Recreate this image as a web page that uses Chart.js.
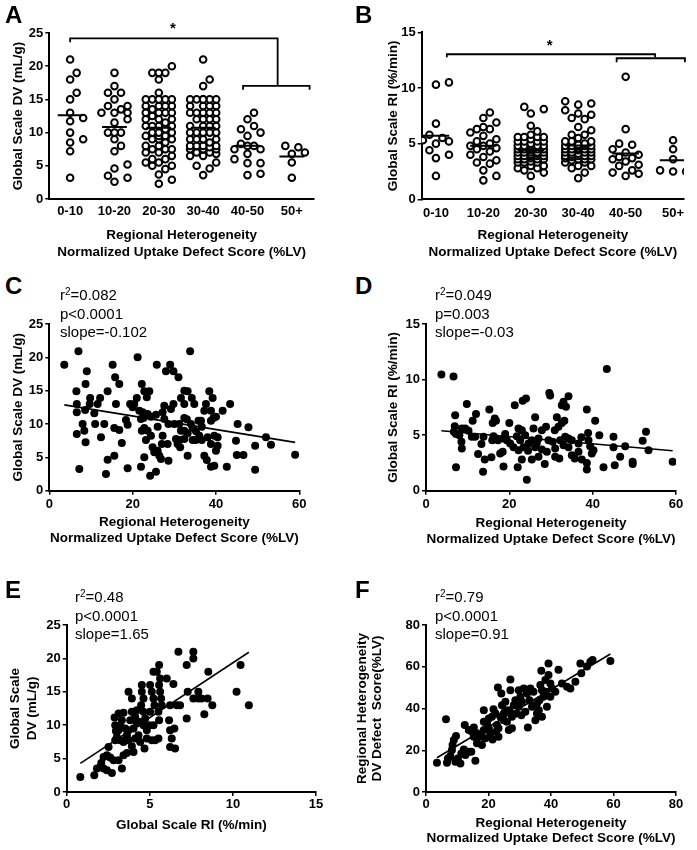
<!DOCTYPE html>
<html>
<head>
<meta charset="utf-8">
<script src="https://cdn.jsdelivr.net/npm/chart.js@4.4.0/dist/chart.umd.min.js"></script>
<style>
  body { margin: 0; background: #fff; width: 697px; height: 850px; position: relative; overflow: hidden;
         font-family: "Liberation Sans", Arial, sans-serif; color: #000; }
  canvas { position: absolute; }
  .lbl { position: absolute; font-weight: bold; font-size: 24px; line-height: 1; z-index: 2; }
  .stat { position: absolute; font-size: 15px; line-height: 18.5px; z-index: 2; white-space: nowrap; }
  .stat sup { font-size: 10px; vertical-align: top; position: relative; top: -3px; }
</style>
</head>
<body>

<script>
// categorias dos paineis A e B
const groupLabels = ['0-10', '10-20', '20-30', '30-40', '40-50', '50+'];

// painel A: Global Scale DV (mL/g) por grupo
const dvGroups = [
  [21, 19, 18, 16, 15, 13, 12.2, 11.7, 10, 9, 8.5, 7.2, 3.2],
  [19, 17, 16, 16, 15, 14, 14, 13.5, 13, 13, 13, 12, 11.5, 10, 10, 10, 9, 8, 7.2, 5.2, 4.6, 3.5, 3.2, 2.6],
  [20, 19, 19, 19, 18, 16, 15, 15, 15, 15, 15, 14, 14, 14, 14, 13.5, 13, 13, 13, 13, 12.5, 12, 12, 12, 11.5,
   11, 11, 11, 11, 10.5, 10, 10, 10, 9.5, 9.5, 9.5, 9, 9, 9, 8.5, 8, 8, 7.5, 7.5, 7.5, 7, 7, 6.5, 6, 6,
   5.5, 5.5, 5, 5, 4.5, 3.7, 2.9, 2.3],
  [21, 18, 17, 15, 15, 15, 15, 15, 15, 14, 14, 14, 14, 13, 13, 13, 13, 13, 12, 12, 12, 12, 11, 11, 11, 11,
   10, 10, 10, 10, 10, 9, 9, 9, 9, 8, 8, 8, 8, 7.5, 7.5, 7.5, 7, 6.5, 5.5, 5, 4.6, 3.6, 6.8, 7.8, 8.5, 6.5, 7],
  [13, 12, 11, 10.5, 10, 9.5, 8.3, 8, 8, 7.5, 7.5, 6.8, 6, 5.4, 5.4, 3.8, 3.6],
  [8, 7.8, 7, 6.8, 5.5, 3.2]
];

// painel B: Global Scale RI (%/min) por grupo
const riGroups = [
  [10.5, 10.3, 6.8, 5.8, 5.5, 5.3, 5.2, 5.0, 4.4, 4.0, 3.7, 2.1],
  [7.8, 7.3, 6.9, 6.5, 6.3, 6.3, 6.0, 5.7, 5.4, 5.2, 5.0, 4.8, 4.8, 4.6, 4.5, 4.3, 4.0, 3.8, 3.5, 3.3, 3.2, 2.6, 2.1, 1.7],
  [8.3, 8.1, 7.7, 6.6, 6.1, 5.6, 5.6, 5.6, 5.6, 5.2, 5.2, 5.2, 5.2, 4.8, 4.8, 4.8, 4.8, 4.8, 4.5, 4.5, 4.5, 4.5, 4.5,
   4.2, 4.2, 4.2, 4.2, 4.2, 3.9, 3.9, 3.9, 3.9, 3.9, 3.6, 3.6, 3.6, 3.6, 3.3, 3.3, 3.3, 3.0, 3.0, 2.8, 2.8, 2.4, 2.1, 0.9,
   5.0, 4.6, 4.0, 3.7, 4.4, 5.4, 3.4, 4.1, 4.7, 5.8, 2.6],
  [8.8, 8.6, 8.5, 8.0, 7.7, 7.6, 7.3, 7.2, 6.5, 6.2, 5.8, 5.8, 5.5, 5.2, 5.2, 5.2, 4.8, 4.8, 4.8, 4.8, 4.8, 4.5, 4.5, 4.5,
   4.5, 4.5, 4.2, 4.2, 4.2, 4.2, 3.9, 3.9, 3.9, 3.9, 3.6, 3.6, 3.6, 3.3, 3.3, 3.0, 3.0, 2.8, 2.4, 1.9,
   4.0, 3.7, 4.6, 5.0, 4.4, 3.5, 4.1, 4.9, 3.8],
  [11.0, 6.3, 5.0, 4.9, 4.5, 4.2, 4.0, 3.8, 3.6, 3.4, 3.1, 3.0, 2.6, 2.4, 2.3, 2.1, 3.7],
  [5.3, 4.5, 3.6, 2.6, 2.5, 2.5]
];

// painel C: [uptake defect score, DV]
const scatterC = [
  [3.6,18.9],[7.0,20.9],[9.0,17.9],[6.5,14.9],[8.7,16.0],[6.6,13.0],[6.6,11.75],[8.6,12.1],[9.8,13.9],[9.7,13.0],
  [11.6,13.0],[12.2,13.9],[10.8,11.6],[8.0,10.0],[8.4,9.0],[6.6,8.5],[8.7,7.25],[11.0,10.0],[12.4,8.0],[13.2,10.0],
  [14.0,14.9],[7.2,3.25],[15.2,18.9],[15.8,17.0],[16.8,16.0],[16.0,13.0],[15.6,9.4],[16.8,9.1],[17.4,7.15],[14.0,4.65],
  [15.6,5.25],[13.6,2.5],[18.4,10.6],[18.8,9.9],[18.8,3.35],[21.2,20.0],[22.2,16.0],[19.4,13.0],[20.0,12.5],[20.4,13.0],
  [21.0,13.9],[21.6,12.0],[22.4,11.75],[22.8,14.9],[24.0,14.9],[23.4,14.0],[22.6,10.9],[23.6,11.5],[22.0,10.75],[22.8,9.4],
  [22.2,9.0],[23.6,9.0],[24.4,8.25],[23.2,7.6],[25.8,18.9],[28.0,17.9],[29.0,18.9],[29.8,17.9],[31.0,17.0],[24.8,6.5],
  [25.2,5.75],[26.0,6.0],[26.4,5.25],[24.4,11.1],[25.6,11.4],[27.2,11.75],[26.0,9.6],[27.2,8.25],[27.0,7.0],[28.4,7.0],
  [26.8,4.75],[28.6,4.5],[22.8,5.0],[22.0,3.6],[24.2,2.25],[25.6,2.85],[27.6,10.75],[28.6,10.0],[30.0,10.0],[29.2,12.25],
  [29.8,13.0],[31.2,10.0],[31.6,9.0],[31.2,7.6],[30.8,7.0],[31.4,6.5],[32.4,15.0],[33.2,14.9],[31.6,13.9],[32.4,13.0],
  [34.2,13.9],[34.8,13.0],[33.8,20.9],[32.4,10.9],[33.0,10.7],[34.0,10.0],[32.4,9.0],[33.2,8.6],[34.4,9.4],[35.2,8.9],
  [32.4,7.75],[34.4,7.6],[33.2,5.25],[35.8,10.5],[36.4,10.5],[36.0,8.25],[36.6,7.6],[35.2,7.6],[38.4,14.9],[39.2,13.9],
  [37.6,13.0],[37.2,12.0],[38.8,12.0],[39.4,10.9],[38.8,10.5],[40.0,11.1],[41.6,12.0],[43.4,13.0],[39.6,8.25],[40.4,8.0],
  [38.8,7.0],[40.4,6.75],[40.0,6.0],[37.2,5.25],[37.8,4.6],[38.8,3.6],[39.6,3.75],[42.6,3.6],[45.2,10.0],[44.8,7.5],
  [45.0,5.35],[46.6,5.35],[47.8,9.5],[49.4,6.75],[49.4,3.15],[52.0,8.0],[53.2,6.9],[59.0,5.4],[36.6,9.6],[38.0,8.0],
  [30.4,7.75],[27.6,12.75]
];

// painel D: [uptake defect score, RI]
const scatterD = [
  [3.7,10.45],[6.6,10.27],[43.4,10.95],[7.0,6.8],[9.8,7.8],[6.9,5.8],[6.7,5.3],[7.2,5.1],[8.6,5.6],[9.4,5.6],
  [10.2,5.4],[8.0,5.0],[8.5,4.4],[8.6,3.8],[7.2,2.1],[11.0,4.85],[11.8,4.85],[12.0,6.9],[11.2,6.3],[13.8,4.85],
  [13.3,4.2],[12.5,3.3],[14.1,2.8],[13.7,1.7],[15.2,7.3],[16.0,6.1],[16.5,6.5],[16.8,6.3],[15.9,4.55],[16.2,4.9],
  [16.8,4.7],[15.7,3.0],[18.6,2.17],[17.8,3.35],[18.4,3.5],[19.0,5.1],[20.0,6.1],[19.4,4.55],[21.3,7.7],[23.2,8.1],
  [24.0,8.3],[22.2,5.6],[23.0,5.45],[21.8,4.9],[22.6,4.55],[23.8,5.0],[24.6,4.25],[23.4,3.9],[22.2,3.65],[23.0,2.8],
  [22.0,2.1],[24.2,0.98],[26.2,6.6],[25.8,5.6],[25.4,4.55],[26.6,4.3],[26.2,3.9],[25.4,2.8],[27.0,3.05],[28.5,2.4],
  [27.8,5.45],[28.8,5.75],[29.6,8.8],[29.8,8.57],[29.4,4.55],[30.4,4.4],[31.0,3.8],[31.4,6.6],[30.9,5.45],[31.8,5.75],
  [32.6,6.1],[33.2,6.3],[32.6,7.7],[33.0,8.0],[33.6,7.55],[34.2,8.5],[32.2,4.55],[33.0,4.1],[33.4,4.85],[34.2,4.7],
  [31.0,3.05],[32.0,2.9],[35.0,3.2],[35.7,2.9],[36.6,3.5],[36.6,4.25],[37.3,4.8],[38.6,7.3],[38.9,5.2],[39.0,4.55],
  [39.4,4.0],[40.2,3.65],[39.8,3.35],[37.4,2.8],[38.6,2.5],[38.6,1.9],[40.6,6.3],[41.6,5.0],[42.6,2.1],[45.0,4.85],
  [45.0,3.9],[45.3,2.3],[46.6,3.05],[47.8,4.0],[49.6,2.6],[49.6,2.4],[52.0,4.5],[52.8,5.3],[53.4,3.65],[59.2,2.6],
  [20.2,4.25],[21.0,3.9],[24.5,3.6],[27.8,3.7],[29.0,3.5],[34.2,3.9],[35.0,4.55],[27.0,4.7],[18.6,4.7],[17.3,4.55]
];

// painel E: [RI, DV]
const scatterE = [
  [0.82,2.25],[1.66,2.5],[1.82,3.5],[2.02,3.75],[2.22,3.5],[2.42,3.25],[2.72,2.85],[2.08,4.35],[2.22,5.25],[2.42,5.5],
  [2.62,5.15],[2.82,4.75],[2.52,6.75],[2.92,7.75],[3.02,8.25],[2.88,11.15],[2.96,9.15],[3.32,3.5],[3.12,4.75],[3.42,5.5],
  [3.62,5.85],[3.72,15.0],[3.92,14.0],[3.42,11.85],[3.32,10.75],[3.22,10.0],[3.52,9.5],[3.62,8.5],[3.22,7.75],[3.42,7.5],
  [3.72,7.75],[3.92,6.85],[4.02,6.0],[3.82,10.75],[3.92,12.0],[4.12,11.25],[4.22,12.25],[4.22,10.25],[4.02,9.5],[4.32,8.5],
  [4.12,8.0],[4.42,7.5],[4.52,16.0],[4.52,15.0],[4.62,14.0],[4.48,13.0],[4.62,12.0],[4.72,11.0],[4.62,10.0],[4.82,9.25],
  [4.68,6.5],[4.96,10.0],[5.02,16.0],[5.12,15.0],[5.22,14.0],[5.28,13.0],[5.02,12.0],[5.22,10.0],[5.12,7.75],[5.32,7.75],
  [5.22,18.0],[5.56,19.0],[5.42,18.0],[5.62,17.0],[5.56,16.0],[5.62,15.0],[5.68,14.0],[5.52,12.0],[5.56,10.75],[5.52,8.0],
  [5.72,13.0],[6.02,17.0],[6.22,13.0],[6.16,10.75],[6.22,9.25],[6.32,8.0],[6.42,16.15],[6.48,9.5],[6.62,13.0],[6.22,6.75],
  [6.52,6.5],[6.72,21.0],[6.82,13.0],[7.22,19.0],[7.28,15.0],[7.22,11.0],[7.62,21.0],[7.62,20.0],[7.92,15.0],[7.62,14.0],
  [7.92,14.0],[8.12,14.0],[8.28,11.65],[8.52,18.0],[8.48,14.0],[8.76,13.0],[10.22,15.0],[10.46,19.0],[10.96,13.0],
  [2.92,10.0],[3.12,9.25],[3.52,7.75],[3.72,9.25],[4.32,10.5],[4.82,8.0],[3.12,11.75]
];

// painel F: [uptake defect score, DV defect score]
const scatterF = [
  [3.5,14.0],[6.4,34.9],[6.7,14.0],[7.0,16.1],[7.8,17.2],[8.3,20.1],[8.5,22.5],[8.9,24.9],[9.6,26.8],[9.4,14.5],
  [10.2,16.1],[11.0,13.7],[11.3,18.5],[12.1,20.4],[12.4,32.1],[12.6,17.7],[13.7,19.3],[14.5,19.3],[13.7,29.7],[14.7,28.9],
  [15.3,26.5],[15.8,15.0],[15.3,30.9],[16.3,28.1],[16.9,26.8],[17.7,26.5],[18.5,39.2],[18.5,33.7],[18.5,29.7],[19.0,25.7],
  [19.5,32.9],[20.1,30.5],[20.6,28.1],[21.1,36.0],[21.3,25.2],[21.6,39.6],[22.2,37.6],[22.4,28.9],[22.7,32.1],[23.0,50.1],
  [23.2,30.5],[24.1,47.2],[24.3,41.6],[24.9,37.6],[24.9,34.4],[25.4,43.2],[25.9,33.7],[26.5,29.7],[27.0,53.9],[27.0,48.8],
  [26.7,39.2],[27.5,36.0],[27.5,30.5],[28.1,41.6],[28.6,44.0],[28.9,37.6],[29.7,40.8],[30.2,45.6],[30.5,36.8],[30.7,43.2],
  [31.3,49.6],[31.8,38.4],[32.6,30.9],[32.3,47.2],[33.1,44.0],[33.4,49.6],[33.9,40.8],[34.4,48.0],[35.0,34.4],[35.5,37.6],
  [36.1,39.2],[36.3,44.0],[36.6,51.2],[36.9,58.1],[37.1,36.0],[37.6,45.6],[38.2,53.6],[38.4,48.0],[38.7,40.8],[39.2,61.6],
  [39.2,56.0],[39.8,52.0],[39.8,45.6],[40.3,49.6],[41.4,48.0],[42.4,58.6],[43.5,52.0],[45.1,50.4],[46.2,49.6],[47.8,52.8],
  [49.4,61.6],[49.7,56.9],[51.5,60.1],[52.6,62.4],[53.3,63.2],[59.0,62.8],[20.1,35.2],[23.8,36.0],[25.4,39.2],[29.7,48.8],
  [35.5,42.4],[37.1,48.8],[23.2,26.5],[17.9,22.5],[16.3,23.3]
];

// retas de regressao [slope, intercept]
const fitC = [-0.1015, 13.24];
const fitD = [-0.0325, 5.52];
const fitE = [1.64, 2.94];
const fitF = [0.895, 13.3];

// ticks
const ticksDV = [0, 5, 10, 15, 20, 25];
const ticksRI = [0, 5, 10, 15];
const ticksScore60 = [0, 20, 40, 60];
const ticksScore80 = [0, 20, 40, 60, 80];
const ticksGroups = [0, 1, 2, 3, 4, 5];

const titleScore = ['Regional Heterogeneity', 'Normalized Uptake Defect Score (%LV)'];
const FONT = '"Liberation Sans", Arial, sans-serif';

// espalha os pontos de cada grupo lado a lado (tipo GraphPad)
function swarm(values, center, pxX, pxY, step, gap, maxSteps) {
  const idx = values.map((v, i) => i).sort((a, b) => values[a] - values[b]);
  const placed = [];
  const out = [];
  idx.forEach(i => {
    const v = values[i];
    let best = 0, bestD = -1;
    for (let k = 0; k <= maxSteps * 2; k++) {
      const off = k === 0 ? 0 : (k % 2 ? 1 : -1) * Math.ceil(k / 2);
      let minD = Infinity;
      placed.forEach(p => {
        minD = Math.min(minD, Math.hypot((off - p.off) * step, (v - p.v) * pxY));
      });
      if (minD >= gap) { best = off; bestD = minD; break; }
      if (minD > bestD) { bestD = minD; best = off; }
    }
    placed.push({ off: best, v });
    out.push({ x: center + best * step / pxX, y: v });
  });
  return out;
}

const mean = arr => arr.reduce((a, b) => a + b, 0) / arr.length;

function groupDatasets(groups, pxX, pxY) {
  const pts = [];
  groups.forEach((g, i) => pts.push(...swarm(g, i, pxX, pxY, 6.5, 8, 2)));
  const sets = groups.map((g, i) => ({
    data: [{ x: i - 0.28, y: mean(g) }, { x: i + 0.28, y: mean(g) }],
    showLine: true, borderColor: '#000', borderWidth: 2, pointRadius: 0, order: 0
  }));
  sets.push({
    data: pts, pointRadius: 3.3, pointBorderWidth: 2, pointBorderColor: '#000',
    pointBackgroundColor: '#fff', order: 1
  });
  return sets;
}

function scatterDatasets(pairs, fit) {
  const xs = pairs.map(p => p[0]);
  const x0 = Math.min(...xs), x1 = Math.max(...xs);
  return [
    { data: [{ x: x0, y: fit[1] + fit[0] * x0 }, { x: x1, y: fit[1] + fit[0] * x1 }],
      showLine: true, borderColor: '#000', borderWidth: 1.6, pointRadius: 0, order: 0 },
    { data: pairs.map(p => ({ x: p[0], y: p[1] })), pointRadius: 4, pointBorderWidth: 0,
      pointBackgroundColor: '#000', order: 1 }
  ];
}

// colchetes de significancia
function bracketPlugin(lines, star) {
  return {
    id: 'brackets',
    afterDatasetsDraw(chart) {
      const { ctx, scales: { x, y } } = chart;
      ctx.save();
      ctx.strokeStyle = '#000';
      ctx.lineWidth = 1.8;
      lines.forEach(l => {
        ctx.beginPath();
        for (let i = 0; i < l.length; i += 2) {
          const px = x.getPixelForValue(l[i]), py = y.getPixelForValue(l[i + 1]);
          i === 0 ? ctx.moveTo(px, py) : ctx.lineTo(px, py);
        }
        ctx.stroke();
      });
      ctx.fillStyle = '#000';
      ctx.font = 'bold 15px ' + FONT;
      ctx.textAlign = 'center';
      ctx.textBaseline = 'middle';
      ctx.fillText('*', x.getPixelForValue(star[0]), y.getPixelForValue(star[1]));
      ctx.restore();
    }
  };
}

function makeChart(box, area, cfg) {
  const cv = document.createElement('canvas');
  cv.width = box.w; cv.height = box.h;
  cv.style.left = box.x + 'px'; cv.style.top = box.y + 'px';
  document.body.appendChild(cv);

  const yW = area.l - box.x;
  const xH = box.y + box.h - area.b;
  const xLines = Array.isArray(cfg.xTitle) ? cfg.xTitle.length : 1;
  const tickFont = { family: FONT, size: 13, weight: 'bold' };
  const titleFont = { family: FONT, size: 13.5, weight: 'bold', lineHeight: cfg.lh + 'px' };

  return new Chart(cv, {
    type: 'scatter',
    data: { datasets: cfg.datasets },
    options: {
      responsive: false, animation: false, devicePixelRatio: 1,
      layout: { padding: { top: area.t - box.y, right: box.x + box.w - area.r, left: 0, bottom: 0 } },
      plugins: { legend: { display: false }, tooltip: { enabled: false } },
      scales: {
        x: {
          type: 'linear', min: cfg.xMin, max: cfg.xMax,
          afterFit: s => { s.height = xH; },
          afterBuildTicks: s => { s.ticks = cfg.xTicks.map(v => ({ value: v })); },
          ticks: { callback: cfg.xLabel || (v => v), font: tickFont, color: '#000',
                   padding: cfg.xTickPad, maxRotation: 0, autoSkip: false },
          grid: { display: cfg.xMarks, drawOnChartArea: false, drawTicks: cfg.xMarks,
                  tickLength: 4, color: '#000', lineWidth: 1.5 },
          border: { display: true, color: '#000', width: 2 },
          title: { display: true, text: cfg.xTitle, font: titleFont, color: '#000',
                   padding: { top: 0, bottom: box.y + box.h - cfg.xTitleY - cfg.lh * (xLines - 1) - cfg.lh / 2 } }
        },
        y: {
          type: 'linear', min: cfg.yMin, max: cfg.yMax,
          afterFit: s => { s.width = yW; },
          afterBuildTicks: s => { s.ticks = cfg.yTicks.map(v => ({ value: v })); },
          ticks: { font: tickFont, color: '#000', padding: 2, autoSkip: false },
          grid: { display: true, drawOnChartArea: false, drawTicks: true,
                  tickLength: 4, color: '#000', lineWidth: 1.5 },
          border: { display: true, color: '#000', width: 2 },
          title: { display: true, text: cfg.yTitle, font: titleFont, color: '#000',
                   padding: { top: cfg.yTitleX - box.x - cfg.lh / 2, bottom: 0 } }
        }
      }
    },
    plugins: cfg.plugins || []
  });
}

// A
makeChart({ x: 0, y: 0, w: 335, h: 262 }, { l: 49.3, r: 314, t: 33, b: 199 }, {
  datasets: groupDatasets(dvGroups, 44.2, 6.64),
  xMin: -0.47, xMax: 5.5, xTicks: ticksGroups, xLabel: v => groupLabels[v], xMarks: false, xTickPad: 5,
  yMin: 0, yMax: 25, yTicks: ticksDV,
  xTitle: titleScore, xTitleY: 235, yTitle: 'Global Scale DV (mL/g)', yTitleX: 18, lh: 17,
  plugins: [bracketPlugin([[0, 23.6, 0, 24.2, 4.68, 24.2, 4.68, 17.05], [3.9, 16.45, 3.9, 17.05, 5.4, 17.05, 5.4, 16.45]], [2.32, 25.6])]
});

// B
makeChart({ x: 352, y: 0, w: 345, h: 262 }, { l: 421.7, r: 684, t: 32.3, b: 199.3 }, {
  datasets: groupDatasets(riGroups, 47.4, 11.13),
  xMin: -0.3, xMax: 5.23, xTicks: ticksGroups, xLabel: v => groupLabels[v], xMarks: false, xTickPad: 6,
  yMin: 0, yMax: 15, yTicks: ticksRI,
  xTitle: titleScore, xTitleY: 235, yTitle: 'Global Scale RI (%/min)', yTitleX: 393, lh: 17,
  plugins: [bracketPlugin([[0.23, 12.76, 0.23, 13.03, 4.62, 13.03, 4.62, 12.76], [3.81, 12.3, 3.81, 12.67, 5.25, 12.67, 5.25, 12.3]], [2.4, 13.8])]
});

// C
makeChart({ x: 0, y: 300, w: 330, h: 245 }, { l: 49.3, r: 299.3, t: 324, b: 490.7 }, {
  datasets: scatterDatasets(scatterC, fitC),
  xMin: 0, xMax: 60, xTicks: ticksScore60, xMarks: true, xTickPad: 2,
  yMin: 0, yMax: 25, yTicks: ticksDV,
  xTitle: titleScore, xTitleY: 522, yTitle: 'Global Scale DV (mL/g)', yTitleX: 18, lh: 16
});

// D
makeChart({ x: 352, y: 300, w: 345, h: 245 }, { l: 426, r: 676, t: 324, b: 490.7 }, {
  datasets: scatterDatasets(scatterD, fitD),
  xMin: 0, xMax: 60, xTicks: ticksScore60, xMarks: true, xTickPad: 2,
  yMin: 0, yMax: 15, yTicks: ticksRI,
  xTitle: titleScore, xTitleY: 523, yTitle: 'Global Scale RI (%/min)', yTitleX: 393, lh: 16
});

// E
makeChart({ x: 0, y: 600, w: 340, h: 250 }, { l: 66.7, r: 316, t: 625, b: 792 }, {
  datasets: scatterDatasets(scatterE, fitE),
  xMin: 0, xMax: 15, xTicks: ticksRI, xMarks: true, xTickPad: 1,
  yMin: 0, yMax: 25, yTicks: ticksDV,
  xTitle: 'Global Scale RI (%/min)', xTitleY: 825, yTitle: ['Global Scale', 'DV (mL/g)'], yTitleX: 15, lh: 17
});

// F
makeChart({ x: 352, y: 600, w: 345, h: 250 }, { l: 426, r: 676, t: 625, b: 792 }, {
  datasets: scatterDatasets(scatterF, fitF),
  xMin: 0, xMax: 80, xTicks: ticksScore80, xMarks: true, xTickPad: 1,
  yMin: 0, yMax: 80, yTicks: ticksScore80,
  xTitle: titleScore, xTitleY: 823, yTitle: ['Regional Heterogeneity', 'DV Defect  Score(%LV)'], yTitleX: 362, lh: 15.5
});
</script>

<div class="lbl" style="left:5px;top:3px">A</div>
<div class="lbl" style="left:355px;top:3px">B</div>
<div class="lbl" style="left:5px;top:274px">C</div>
<div class="lbl" style="left:355px;top:274px">D</div>
<div class="lbl" style="left:5px;top:578px">E</div>
<div class="lbl" style="left:355px;top:578px">F</div>

<div class="stat" style="left:60px;top:286px">r<sup>2</sup>=0.082<br>p&lt;0.0001<br>slope=-0.102</div>
<div class="stat" style="left:435px;top:286px">r<sup>2</sup>=0.049<br>p=0.003<br>slope=-0.03</div>
<div class="stat" style="left:75px;top:588px">r<sup>2</sup>=0.48<br>p&lt;0.0001<br>slope=1.65</div>
<div class="stat" style="left:435px;top:588px">r<sup>2</sup>=0.79<br>p&lt;0.0001<br>slope=0.91</div>

</body>
</html>
